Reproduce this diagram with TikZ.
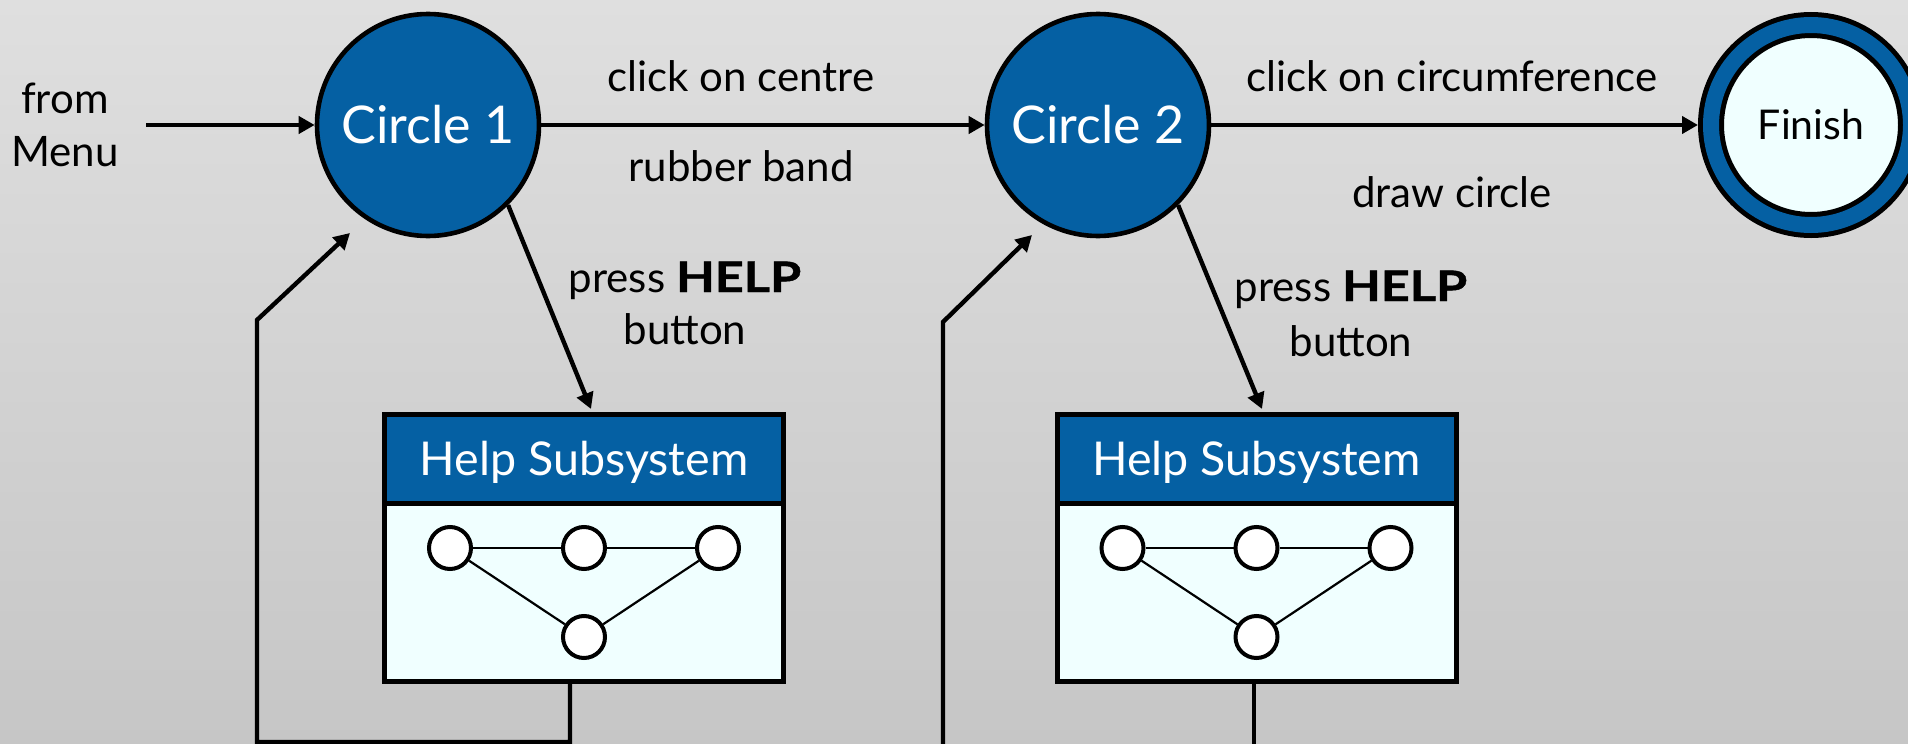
\documentclass[tikz,border=0pt]{standalone}
\usepackage{fontspec}
\setmainfont{Lato}
\newfontfamily\helpfont{Lato}[FakeStretch=1.2,FakeBold=1]
\usetikzlibrary{arrows.meta,calc}
\definecolor{hblue}{HTML}{0560A3}
\definecolor{pale}{HTML}{F0FFFF}
\definecolor{bgtop}{HTML}{DFDFDF}
\definecolor{bgbot}{HTML}{C6C6C6}
\begin{document}
\begin{tikzpicture}[x=0.5pt,y=-0.5pt,
  state/.style={circle,draw=black,line width=2.3pt,fill=hblue,text=white,minimum size=111pt,inner sep=0pt,font=\fontsize{26}{30}\selectfont},
  fin/.style={circle,draw=black,line width=2.5pt,double=hblue,double distance=8pt,fill=pale,minimum size=100pt,inner sep=0pt,outer sep=6.5pt,font=\fontsize{20.5}{24}\selectfont},
  lbl/.style={anchor=base,inner sep=0pt,font=\fontsize{21}{25}\selectfont},
  arr/.style={line width=2.2pt,-{Triangle[length=8pt,width=8.5pt]}},
  loopline/.style={line width=2.2pt},
  hhead/.style={rectangle,draw=black,line width=2.5pt,fill=hblue,text=white,minimum width=199.5pt,minimum height=44.25pt,inner sep=0pt,font=\fontsize{23.3}{28}\selectfont,text depth=0pt},
  hbody/.style={rectangle,draw=black,line width=2.5pt,fill=pale,minimum width=199.5pt,minimum height=89.25pt,inner sep=0pt},
  mini/.style={circle,draw=black,line width=2pt,fill=white,minimum size=21pt,inner sep=0pt},
  miniedge/.style={line width=1.1pt}
]
\useasboundingbox (0,0) rectangle (1908,744);
\fill[top color=bgtop,bottom color=bgbot] (0,0) rectangle (1908,744);

% states
\node[state] (c1) at (428,125) {Circle 1};
\node[state] (c2) at (1098,125) {Circle 2};
\node[fin] (fin) at (1811,125) {Finish};

% help boxes
\node[hbody] (hb1) at (584,592.25) {};
\node[hhead] (hh1) at (584,458.75) {Help Subsystem};
\node[hbody] (hb2) at (1256.5,592.25) {};
\node[hhead] (hh2) at (1256.5,458.75) {Help Subsystem};

% mini graphs
\foreach \b/\cx in {1/584,2/1256.5}{
  \node[mini] (m\b a) at (\cx-134,548) {};
  \node[mini] (m\b b) at (\cx,548) {};
  \node[mini] (m\b c) at (\cx+134,548) {};
  \node[mini] (m\b d) at (\cx,637) {};
  \draw[miniedge] (m\b a) -- (m\b b);
  \draw[miniedge] (m\b b) -- (m\b c);
  \draw[miniedge] (m\b a) -- (m\b d);
  \draw[miniedge] (m\b c) -- (m\b d);
}

% coordinates
\coordinate (start) at (146,125);
\coordinate (t1) at (591,409);
\coordinate (t2) at (1262,409);
\coordinate (l1a) at (570,742);
\coordinate (l1b) at (257,742);
\coordinate (l1c) at (257,320);
\coordinate (l1t) at (350,233);
\coordinate (l2a) at (943,744);
\coordinate (l2c) at (943,322);
\coordinate (l2t) at (1032,235);
\coordinate (l2r) at (1254,744);

% connectors
\draw[arr] (start) -- (c1.west);
\draw[arr] (c1.east) -- (c2.west);
\draw[arr] (c2.east) -- (fin.west);
\draw[arr] (c1.south east) -- (t1);
\draw[arr] (c2.south east) -- (t2);
\draw[arr] (hb1.south -| l1a) -- (l1a) -- (l1b) -- (l1c) -- (l1t);
\draw[arr] (l2a) -- (l2c) -- (l2t);
\draw[loopline] (hb2.south -| l2r) -- (l2r);

% labels
\node[lbl] (from) at (65,113) {from};
\node[lbl] (menu) at (65,166) {Menu};
\node[lbl] (lab1) at (741,91) {click on centre};
\node[lbl] (lab2) at (741,181) {rubber band};
\node[lbl] (lab3) at (685,292) {press {\helpfont\bfseries HELP}};
\node[lbl] (lab4) at (685,344) {button};
\node[lbl] (lab5) at (1351,301) {press {\helpfont\bfseries HELP}};
\node[lbl] (lab6) at (1351,356) {button};
\node[lbl] (lab7) at (1452,91) {click on circumference};
\node[lbl] (lab8) at (1452,207) {draw circle};
\end{tikzpicture}
\end{document}
